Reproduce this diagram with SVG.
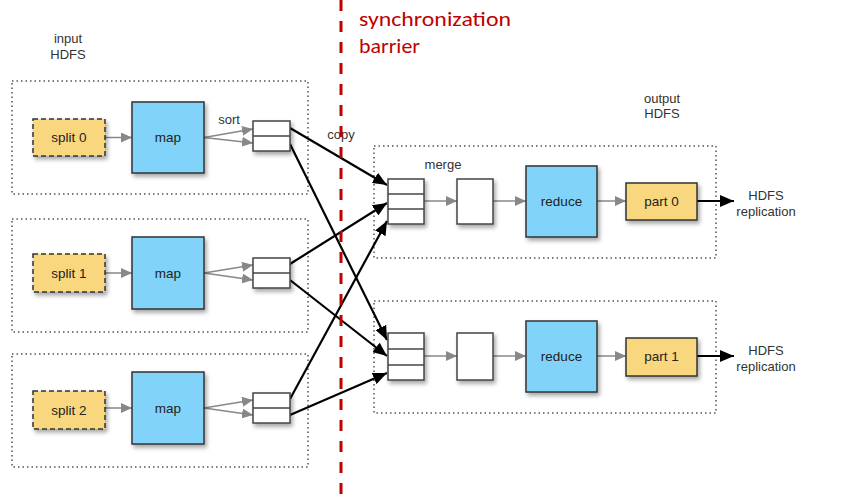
<svg xmlns="http://www.w3.org/2000/svg" width="855" height="500" viewBox="0 0 855 500">
<defs>
<style>
.grp{fill:none;stroke:#555;stroke-width:1.5;stroke-dasharray:1.5 3}
.split{fill:#F9D77E;stroke:#333;stroke-width:1.5;stroke-dasharray:5 3}
.part{fill:#F9D77E;stroke:#333;stroke-width:1.5}
.proc{fill:#81D3F9;stroke:#333;stroke-width:1.5}
.buf{fill:#fff;stroke:#444;stroke-width:1.5}
.t{font-family:"Liberation Sans",Arial,sans-serif;font-size:13.5px;fill:#222;text-anchor:middle}
.lbl{font-family:"Liberation Sans",Arial,sans-serif;font-size:13px;fill:#333;text-anchor:middle}
.ga{stroke:#888;stroke-width:1.5;fill:none;marker-end:url(#gh)}
.ba{stroke:#000;stroke-width:2.2;fill:none;marker-end:url(#bh)}
.sync{font-family:Carlito,"Liberation Sans",Arial,sans-serif;font-size:20px;fill:#C00000}
</style>
<marker id="gh" markerUnits="userSpaceOnUse" markerWidth="12" markerHeight="10" refX="11" refY="5" orient="auto"><path d="M0,0 L11,5 L0,10 Z" fill="#888"/></marker>
<marker id="bh" markerUnits="userSpaceOnUse" markerWidth="14" markerHeight="12" refX="14" refY="6" orient="auto"><path d="M0,0 L14,6 L0,12 Z" fill="#000"/></marker>
<filter id="sh" x="-20%" y="-20%" width="150%" height="150%"><feDropShadow dx="2" dy="3" stdDeviation="2" flood-color="#000" flood-opacity="0.35"/></filter>
</defs>
<rect width="855" height="500" fill="#fff"/>

<g id="labels">
<text class="lbl" x="68" y="43">input</text>
<text class="lbl" x="68" y="59">HDFS</text>
<text class="lbl" x="662" y="103">output</text>
<text class="lbl" x="662" y="118">HDFS</text>
<text class="lbl" x="229" y="124">sort</text>
<text class="lbl" x="341" y="139">copy</text>
<text class="lbl" x="443" y="169">merge</text>
</g>

<g id="groups">
<rect class="grp" x="12" y="81" width="296" height="113"/>
<rect class="grp" x="12" y="219" width="296" height="113"/>
<rect class="grp" x="12" y="354" width="296" height="113"/>
<rect class="grp" x="374" y="146" width="342" height="112"/>
<rect class="grp" x="374" y="301" width="342" height="112"/>
</g>

<g id="connectors">
<line class="ga" x1="105" y1="137.5" x2="132" y2="137.5"/>
<polyline class="ga" points="204,137.5 253,129"/>
<polyline class="ga" points="204,137.5 253,143"/>
<line class="ga" x1="105" y1="273" x2="132" y2="273"/>
<polyline class="ga" points="204,273 253,265"/>
<polyline class="ga" points="204,273 253,280"/>
<line class="ga" x1="105" y1="408" x2="132" y2="408"/>
<polyline class="ga" points="204,408 253,400"/>
<polyline class="ga" points="204,408 253,415"/>

<line class="ga" x1="424" y1="201" x2="457" y2="201"/>
<line class="ga" x1="493" y1="201" x2="526" y2="201"/>
<line class="ga" x1="597" y1="201" x2="626" y2="201"/>
<line class="ga" x1="424" y1="356" x2="457" y2="356"/>
<line class="ga" x1="493" y1="356" x2="526" y2="356"/>
<line class="ga" x1="597" y1="356" x2="626" y2="356"/>

<line class="ba" x1="290" y1="128" x2="387" y2="185"/>
<line class="ba" x1="290" y1="144" x2="387" y2="340"/>
<line class="ba" x1="290" y1="264" x2="387" y2="203"/>
<line class="ba" x1="290" y1="280" x2="387" y2="356"/>
<line class="ba" x1="290" y1="399" x2="387" y2="221"/>
<line class="ba" x1="290" y1="415" x2="387" y2="373"/>

<line class="ba" x1="697" y1="201" x2="734" y2="201"/>
<line class="ba" x1="697" y1="356" x2="734" y2="356"/>
</g>

<g id="split0"><rect class="split" filter="url(#sh)" x="33" y="119" width="72" height="37"/><text class="t" x="69" y="142">split 0</text></g>
<g id="map0"><rect class="proc" filter="url(#sh)" x="132" y="102" width="72" height="71"/><text class="t" x="168" y="142">map</text></g>
<g id="sort0"><rect class="buf" filter="url(#sh)" x="253" y="121" width="37" height="30"/><line x1="253" y1="136" x2="290" y2="136" stroke="#444" stroke-width="1.5"/></g>

<g id="split1"><rect class="split" filter="url(#sh)" x="33" y="254" width="72" height="38"/><text class="t" x="69" y="278">split 1</text></g>
<g id="map1"><rect class="proc" filter="url(#sh)" x="132" y="237" width="72" height="72"/><text class="t" x="168" y="278">map</text></g>
<g id="sort1"><rect class="buf" filter="url(#sh)" x="253" y="258" width="37" height="30"/><line x1="253" y1="273" x2="290" y2="273" stroke="#444" stroke-width="1.5"/></g>

<g id="split2"><rect class="split" filter="url(#sh)" x="33" y="391" width="72" height="38"/><text class="t" x="69" y="415">split 2</text></g>
<g id="map2"><rect class="proc" filter="url(#sh)" x="132" y="372" width="72" height="72"/><text class="t" x="168" y="413">map</text></g>
<g id="sort2"><rect class="buf" filter="url(#sh)" x="253" y="393" width="37" height="30"/><line x1="253" y1="408" x2="290" y2="408" stroke="#444" stroke-width="1.5"/></g>

<g id="merge0"><rect class="buf" filter="url(#sh)" x="388" y="179" width="36" height="45"/><line x1="388" y1="194" x2="424" y2="194" stroke="#444" stroke-width="1.5"/><line x1="388" y1="209" x2="424" y2="209" stroke="#444" stroke-width="1.5"/></g>
<g id="merged0"><rect class="buf" filter="url(#sh)" x="457" y="179" width="36" height="45"/></g>
<g id="reduce0"><rect class="proc" filter="url(#sh)" x="526" y="166" width="71" height="71"/><text class="t" x="561.5" y="206">reduce</text></g>
<g id="part0"><rect class="part" filter="url(#sh)" x="626" y="183" width="71" height="37"/><text class="t" x="661.5" y="206">part 0</text></g>
<g id="repl0"><text class="lbl" x="766" y="200">HDFS</text><text class="lbl" x="766" y="216">replication</text></g>

<g id="merge1"><rect class="buf" filter="url(#sh)" x="388" y="333" width="36" height="47"/><line x1="388" y1="349" x2="424" y2="349" stroke="#444" stroke-width="1.5"/><line x1="388" y1="365" x2="424" y2="365" stroke="#444" stroke-width="1.5"/></g>
<g id="merged1"><rect class="buf" filter="url(#sh)" x="457" y="333" width="36" height="47"/></g>
<g id="reduce1"><rect class="proc" filter="url(#sh)" x="526" y="321" width="71" height="71"/><text class="t" x="561.5" y="361">reduce</text></g>
<g id="part1"><rect class="part" filter="url(#sh)" x="626" y="338" width="71" height="38"/><text class="t" x="661.5" y="361">part 1</text></g>
<g id="repl1"><text class="lbl" x="766" y="355">HDFS</text><text class="lbl" x="766" y="371">replication</text></g>

<g id="barrier">
<line x1="341" y1="0" x2="341" y2="500" stroke="#C00000" stroke-width="3" stroke-dasharray="11 10"/>
<text class="sync" x="359" y="26" textLength="152" lengthAdjust="spacingAndGlyphs">synchronization</text>
<text class="sync" x="359" y="53" textLength="61" lengthAdjust="spacingAndGlyphs">barrier</text>
</g>
</svg>
